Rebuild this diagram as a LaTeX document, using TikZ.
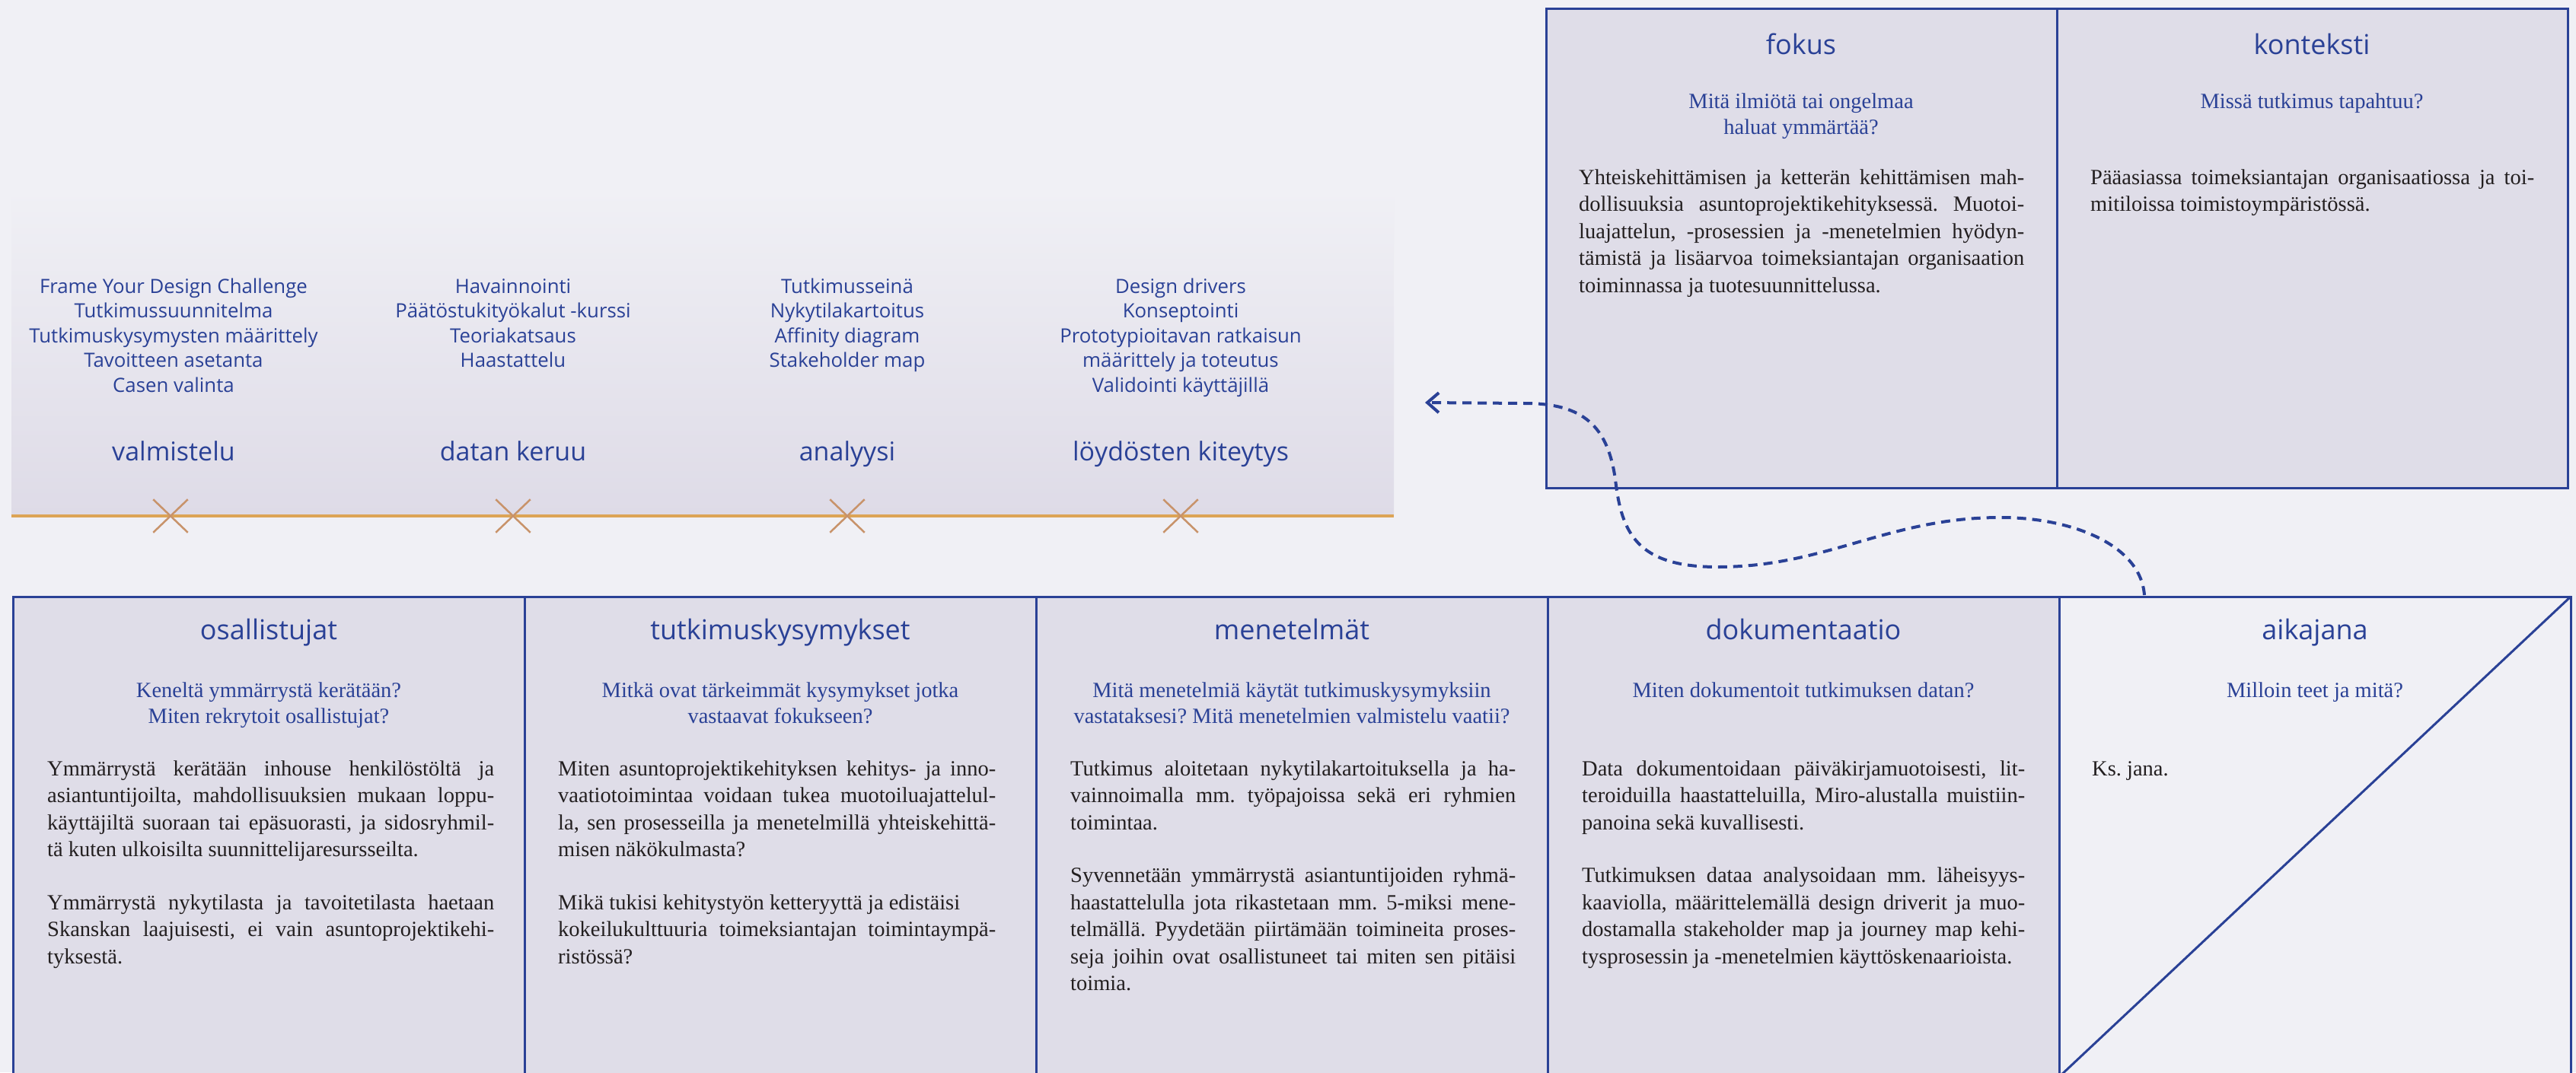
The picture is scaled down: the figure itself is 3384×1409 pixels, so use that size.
\documentclass[tikz,border=0pt]{standalone}
\usepackage{fontspec}
\setmainfont{Liberation Serif}
\newfontfamily\opensans{Open Sans}
\usetikzlibrary{arrows.meta,shapes.misc}
\frenchspacing

\definecolor{bgc}{HTML}{F0F0F5}
\definecolor{panelbot}{HTML}{DEDBE7}
\definecolor{cellfill}{HTML}{DFDDE8}
\definecolor{navy}{HTML}{2A4196}
\definecolor{ink}{HTML}{231F20}
\definecolor{amber}{HTML}{DCA456}
\definecolor{tan}{HTML}{C8936A}

% justified / last lines of a text block
\newlength\colw
\newcommand\jline[1]{\hbox to \colw{#1}}
\newcommand\eline[1]{\hbox{#1}}
\newcommand\pgap{\vskip 34pt}
\newcommand\bodytext[2]{\vtop{\setlength\colw{#1}#2}}
% centred stack of lines, baseline at the first line
\newcommand\cstack[1]{\vtop{\halign{\hfil##\hfil\cr#1\crcr}}}

\tikzset{
  cell/.style={draw=navy, line width=3pt, fill=cellfill, anchor=north west,
    minimum width=672pt, minimum height=631pt, inner sep=0pt, outer sep=0pt},
  ttl/.style={font=\opensans\fontsize{36}{40}\selectfont, text=navy, anchor=base, inner sep=0pt},
  ask/.style={font=\fontsize{28.5}{34.5}\selectfont, text=navy, anchor=base, inner sep=0pt},
  body/.style={font=\fontsize{28.5}{35.5}\selectfont, text=ink, anchor=base west, inner sep=0pt},
  item/.style={font=\opensans\fontsize{25.8}{32.5}\selectfont, text=navy, anchor=base, inner sep=0pt},
  phase/.style={font=\opensans\fontsize{34}{40}\selectfont, text=navy, anchor=base, inner sep=0pt},
  xcross/.style={cross out, draw=tan, line width=2.5pt, minimum width=43pt,
    minimum height=41pt, inner sep=0pt},
  flow/.style={navy, line width=4pt, dash pattern=on 12pt off 8pt,
    -{Straight Barb[length=15pt,width=26pt,line width=4pt]}}
}

\begin{document}
\begin{tikzpicture}[x=1pt, y=-1pt]
\useasboundingbox (0,0) rectangle (3384,1409);
\clip (0,0) rectangle (3384,1409);
\fill[bgc] (0,0) rectangle (3384,1409);

% ---- process timeline panel ----
\node[anchor=north west, minimum width=1816pt, minimum height=430pt, inner sep=0pt,
      top color=bgc, bottom color=panelbot] (panel) at (15,248) {};

\node[item] (i-valm) at (228,385) {\cstack{Frame Your Design Challenge\cr Tutkimussuunnitelma\cr Tutkimuskysymysten määrittely\cr Tavoitteen asetanta\cr Casen valinta}};
\node[item] (i-data) at (674,385) {\cstack{Havainnointi\cr Päätöstukityökalut -kurssi\cr Teoriakatsaus\cr Haastattelu}};
\node[item] (i-anal) at (1113,385) {\cstack{Tutkimusseinä\cr Nykytilakartoitus\cr Affinity diagram\cr Stakeholder map}};
\node[item] (i-loyd) at (1551,385) {\cstack{Design drivers\cr Konseptointi\cr Prototypioitavan ratkaisun\cr määrittely ja toteutus\cr Validointi käyttäjillä}};

\node[phase] (p-valm) at (228,605) {valmistelu};
\node[phase] (p-data) at (674,605) {datan keruu};
\node[phase] (p-anal) at (1113,605) {analyysi};
\node[phase] (p-loyd) at (1551,605) {löydösten kiteytys};

\draw[amber, line width=4pt] (panel.south west) -- (panel.south east);
\node[xcross] (x-valm) at (224,678) {};
\node[xcross] (x-data) at (674,678) {};
\node[xcross] (x-anal) at (1113,678) {};
\node[xcross] (x-loyd) at (1551,678) {};

% ---- focus and context ----
\node[cell, minimum width=671pt, minimum height=630pt] (c-fokus) at (2031,11) {};
\node[cell, minimum width=671pt, minimum height=630pt] (c-kont) at (2702,11) {};

\node[ttl] (t-fokus) at (2366,71) {fokus};
\node[ttl] (t-kont) at (3037,71) {konteksti};
\node[ask] (q-fokus) at (2366,142) {\cstack{Mitä ilmiötä tai ongelmaa\cr haluat ymmärtää?}};
\node[ask] (q-kont) at (3037,142) {Missä tutkimus tapahtuu?};

\node[body] (b-fokus) at (2074,242) {\bodytext{585pt}{%
  \jline{Yhteiskehittämisen ja ketterän kehittämisen mah-}
  \jline{dollisuuksia asuntoprojektikehityksessä. Muotoi-}
  \jline{luajattelun, -prosessien ja -menetelmien hyödyn-}
  \jline{tämistä ja lisäarvoa toimeksiantajan organisaation}
  \eline{toiminnassa ja tuotesuunnittelussa.}}};
\node[body] (b-kont) at (2746,242) {\bodytext{583pt}{%
  \jline{Pääasiassa toimeksiantajan organisaatiossa ja toi-}
  \eline{mitiloissa toimistoympäristössä.}}};

% ---- research plan row ----
\node[cell] (c-osal) at (17,784) {};
\node[cell] (c-tutk) at (689,784) {};
\node[cell] (c-mene) at (1361,784) {};
\node[cell] (c-doku) at (2033,784) {};
\node[cell, fill=bgc] (c-aika) at (2705,784) {};

\node[ttl] (t-osal) at (353,840) {osallistujat};
\node[ttl] (t-tutk) at (1025,840) {tutkimuskysymykset};
\node[ttl] (t-mene) at (1697,840) {menetelmät};
\node[ttl] (t-doku) at (2369,840) {dokumentaatio};
\node[ttl] (t-aika) at (3041,840) {aikajana};

\node[ask] (q-osal) at (353,916) {\cstack{Keneltä ymmärrystä kerätään?\cr Miten rekrytoit osallistujat?}};
\node[ask] (q-tutk) at (1025,916) {\cstack{Mitkä ovat tärkeimmät kysymykset jotka\cr vastaavat fokukseen?}};
\node[ask] (q-mene) at (1697,916) {\cstack{Mitä menetelmiä käytät tutkimuskysymyksiin\cr vastataksesi? Mitä menetelmien valmistelu vaatii?}};
\node[ask] (q-doku) at (2369,916) {Miten dokumentoit tutkimuksen datan?};
\node[ask] (q-aika) at (3041,916) {Milloin teet ja mitä?};

\node[body] (b-osal) at (62,1019) {\bodytext{587pt}{%
  \jline{Ymmärrystä kerätään inhouse henkilöstöltä ja}
  \jline{asiantuntijoilta, mahdollisuuksien mukaan loppu-}
  \jline{käyttäjiltä suoraan tai epäsuorasti, ja sidosryhmil-}
  \eline{tä kuten ulkoisilta suunnittelijaresursseilta.}
  \pgap
  \jline{Ymmärrystä nykytilasta ja tavoitetilasta haetaan}
  \jline{Skanskan laajuisesti, ei vain asuntoprojektikehi-}
  \eline{tyksestä.}}};
\node[body] (b-tutk) at (733,1019) {\bodytext{575pt}{%
  \jline{Miten asuntoprojektikehityksen kehitys- ja inno-}
  \jline{vaatiotoimintaa voidaan tukea muotoiluajattelul-}
  \jline{la, sen prosesseilla ja menetelmillä yhteiskehittä-}
  \eline{misen näkökulmasta?}
  \pgap
  \eline{Mikä tukisi kehitystyön ketteryyttä ja edistäisi}
  \jline{kokeilukulttuuria toimeksiantajan toimintaympä-}
  \eline{ristössä?}}};
\node[body] (b-mene) at (1406,1019) {\bodytext{585pt}{%
  \jline{Tutkimus aloitetaan nykytilakartoituksella ja ha-}
  \jline{vainnoimalla mm. työpajoissa sekä eri ryhmien}
  \eline{toimintaa.}
  \pgap
  \jline{Syvennetään ymmärrystä asiantuntijoiden ryhmä-}
  \jline{haastattelulla jota rikastetaan mm. 5-miksi mene-}
  \jline{telmällä. Pyydetään piirtämään toimineita proses-}
  \jline{seja joihin ovat osallistuneet tai miten sen pitäisi}
  \eline{toimia.}}};
\node[body] (b-doku) at (2078,1019) {\bodytext{582pt}{%
  \jline{Data dokumentoidaan päiväkirjamuotoisesti, lit-}
  \jline{teroiduilla haastatteluilla, Miro-alustalla muistiin-}
  \eline{panoina sekä kuvallisesti.}
  \pgap
  \jline{Tutkimuksen dataa analysoidaan mm. läheisyys-}
  \jline{kaaviolla, määrittelemällä design driverit ja muo-}
  \jline{dostamalla stakeholder map ja journey map kehi-}
  \eline{tysprosessin ja -menetelmien käyttöskenaarioista.}}};
\node[body] (b-aika) at (2748,1019) {Ks. jana.};

\draw[navy, line width=3pt] (c-aika.south west) -- (c-aika.north east);

% ---- link from the timeline cell back to the process panel ----
\coordinate (fstart) at (2817,782);
\coordinate (ftip) at (1872,529);
\draw[flow] (fstart) .. controls (2812,715) and (2720,680) .. (2628,680)
  .. controls (2480,680) and (2400,745) .. (2256,745)
  .. controls (2150,745) and (2130,700) .. (2122,630)
  .. controls (2112,560) and (2080,530) .. (2003,530) -- (ftip);
\end{tikzpicture}
\end{document}
